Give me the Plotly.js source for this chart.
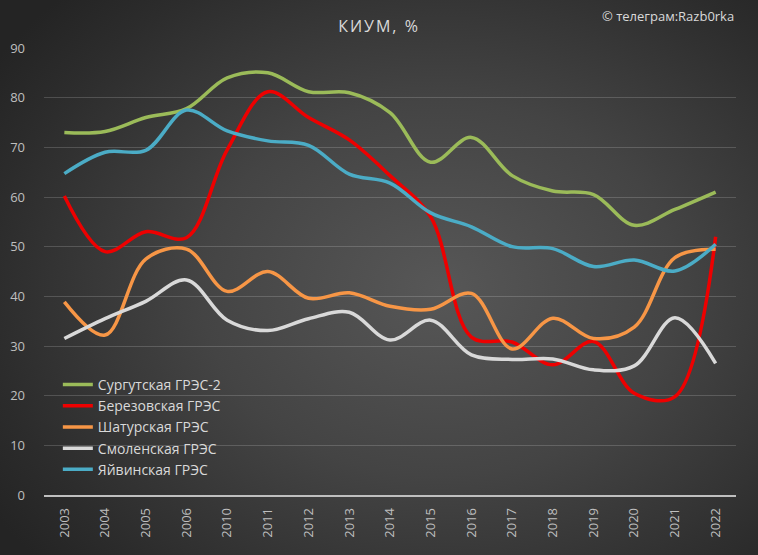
<!DOCTYPE html>
<html>
<head>
<meta charset="utf-8">
<script src="https://cdn.plot.ly/plotly-3.0.1.min.js"></script>
<style>
  html, body { margin: 0; padding: 0; }
  #chart {
    width: 758px; height: 555px;
    background: radial-gradient(ellipse 70% 75% at 58% 52%, #575757 0%, #444444 45%, #2c2c2c 85%, #242424 100%);
  }
  .gtitle { letter-spacing: 2px; }
</style>
</head>
<body>
<div id="chart"></div>
<script>
const years = ["2003","2004","2005","2006","2010","2011","2012","2013","2014","2015","2016","2017","2018","2019","2020","2021","2022"];

const surgut2   = [73, 73.2, 76, 77.8, 84, 85, 81.2, 81, 77, 67, 72, 64.3, 61.2, 60.5, 54.3, 57.5, 61];
const berezov   = [60.2, 49, 53, 51.8, 69.5, 81.2, 76, 71.5, 64.3, 56, 31.8, 30.8, 26.2, 30.9, 20.5, 19.8, 52];
const shatur    = [38.9, 32.2, 47.5, 49.5, 41, 45, 39.6, 40.7, 38, 37.4, 40.6, 29.4, 35.6, 31.5, 33.8, 47.8, 49.5];
const smolensk  = [31.5, 35.5, 39, 43.3, 35.2, 33.1, 35.5, 36.8, 31.2, 35.2, 28.2, 27.3, 27.4, 25.2, 26, 35.7, 26.5];
const yaiva     = [64.7, 69, 69.4, 77.5, 73.3, 71.3, 70.4, 64.6, 62.8, 56.8, 54, 50, 49.6, 46, 47.3, 45.1, 50.5];

const names  = ["Сургутская ГРЭС-2", "Березовская ГРЭС", "Шатурская ГРЭС", "Смоленская ГРЭС", "Яйвинская ГРЭС"];
const colors = ["#9bbb59", "#ee0000", "#f79646", "#d9d9d9", "#4bacc6"];
const series = [surgut2, berezov, shatur, smolensk, yaiva];

const traces = series.map((s, i) => ({
  type: "scatter",
  mode: "lines",
  x: years,
  y: s,
  name: names[i],
  line: { color: colors[i], width: 3.5, shape: "spline", smoothing: 1 },
  hoverinfo: "x+y+name"
}));

const layout = {
  width: 758, height: 555,
  paper_bgcolor: "rgba(0,0,0,0)",
  plot_bgcolor: "rgba(0,0,0,0)",
  margin: { l: 44, r: 22, t: 48, b: 60 },
  font: { family: "Open Sans, Noto Sans, sans-serif", color: "#bfbfbf" },
  title: {
    text: "КИУМ, %",
    font: { size: 16, color: "#d9d9d9", family: "Open Sans, Noto Sans, sans-serif" },
    x: 0.5, xanchor: "center", y: 0.952, yanchor: "middle"
  },
  xaxis: {
    type: "category",
    range: [-0.5, years.length - 0.5],
    tickangle: -90,
    tickfont: { size: 13, color: "#bfbfbf" },
    showgrid: false,
    showline: true,
    linecolor: "#bfbfbf",
    linewidth: 1.5,
    ticks: "",
    ticklabelstandoff: 6,
    zeroline: false,
    fixedrange: true
  },
  yaxis: {
    range: [0, 90],
    dtick: 10,
    tickfont: { size: 13, color: "#bfbfbf" },
    gridcolor: "rgba(255,255,255,0.17)",
    gridwidth: 1,
    zeroline: false,
    showline: false,
    ticks: "",
    ticklabelstandoff: 18,
    fixedrange: true
  },
  showlegend: true,
  legend: {
    x: 0.02, xanchor: "left",
    y: 0.282, yanchor: "top",
    bgcolor: "rgba(0,0,0,0)",
    font: { size: 14, color: "#d9d9d9" },
    tracegroupgap: 0
  },
  annotations: [{
    text: "© телеграм:Razb0rka",
    xref: "paper", yref: "paper",
    x: 1.0, xanchor: "right",
    y: 1.072, yanchor: "middle",
    showarrow: false,
    font: { size: 13, color: "#d9d9d9" }
  }]
};

Plotly.newPlot("chart", traces, layout, { displayModeBar: false });
</script>
</body>
</html>
